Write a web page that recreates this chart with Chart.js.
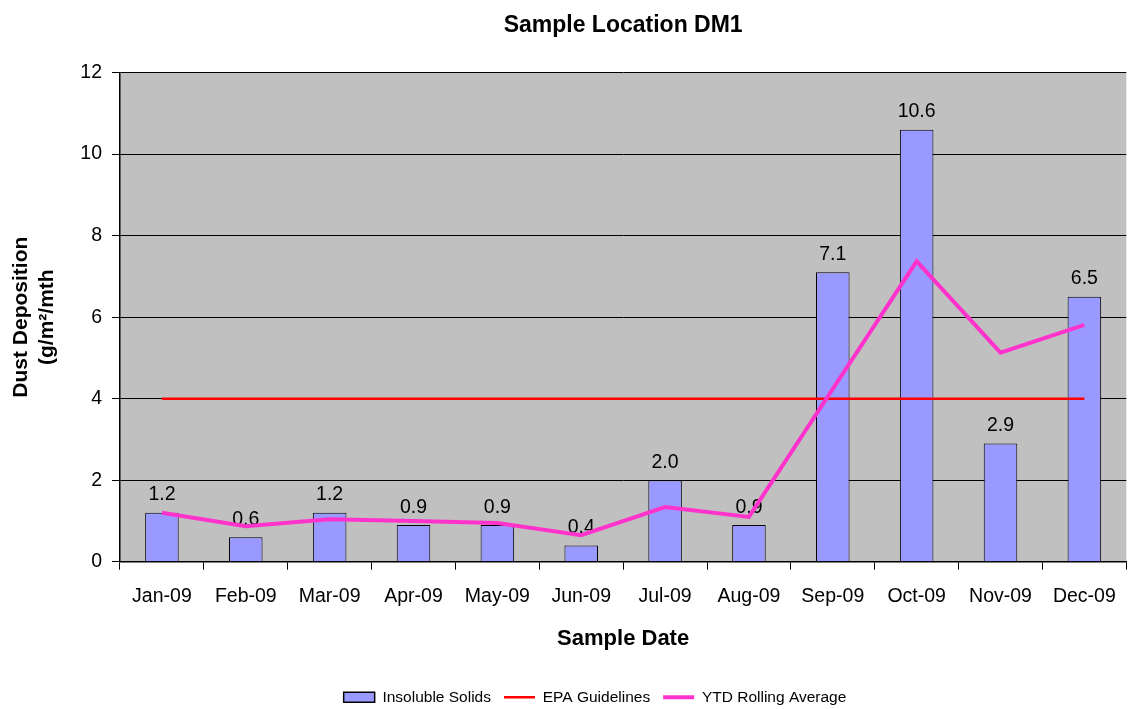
<!DOCTYPE html>
<html>
<head>
<meta charset="utf-8">
<script src="https://cdn.jsdelivr.net/npm/chart.js@4/dist/chart.umd.min.js"></script>
<style>
  html, body { margin: 0; padding: 0; background: #ffffff; }
  #wrap { width: 1131px; height: 709px; }
</style>
</head>
<body>
<div id="wrap"><canvas id="c" width="1131" height="709"></canvas></div>
<script>
const categories = ['Jan-09','Feb-09','Mar-09','Apr-09','May-09','Jun-09','Jul-09','Aug-09','Sep-09','Oct-09','Nov-09','Dec-09'];
const insolubleSolids = [1.2, 0.6, 1.2, 0.9, 0.9, 0.4, 2.0, 0.9, 7.1, 10.6, 2.9, 6.5];
const epaGuidelines = [4, 4, 4, 4, 4, 4, 4, 4, 4, 4, 4, 4];
const ytdRollingAverage = [1.2, 0.87, 1.04, 1.0, 0.95, 0.65, 1.34, 1.1, 4.24, 7.37, 5.13, 5.81];
const yTicks = [0, 2, 4, 6, 8, 10, 12];

const FONT = "'Liberation Sans', Arial, Helvetica, sans-serif";

const bgPlugin = {
  id: 'plotBg',
  beforeDraw(chart) {
    const a = chart.chartArea, ctx = chart.ctx;
    ctx.save();
    ctx.fillStyle = '#C0C0C0';
    ctx.fillRect(a.left, a.top, a.right - a.left, a.bottom - a.top);
    ctx.restore();
  }
};

const valueLabels = {
  id: 'valueLabels',
  afterDatasetDraw(chart, args) {
    if (args.index !== 0) return;
    const ctx = chart.ctx;
    const meta = args.meta;
    ctx.save();
    ctx.font = "19.5px " + FONT;
    ctx.fillStyle = '#000';
    ctx.textAlign = 'center';
    ctx.textBaseline = 'bottom';
    meta.data.forEach((bar, i) => {
      ctx.fillText(insolubleSolids[i].toFixed(1), bar.x, bar.y - 8);
    });
    ctx.restore();
  }
};

const legendShift = {
  id: 'legendShift',
  afterLayout(chart) {
    const lg = chart.legend;
    if (lg) {
      lg.left += 30;
      lg.right += 30;
      lg.top += 10;
      lg.bottom += 10;
    }
  }
};

new Chart(document.getElementById('c'), {
  type: 'bar',
  data: {
    labels: categories,
    datasets: [
      {
        label: 'Insoluble Solids',
        data: insolubleSolids,
        backgroundColor: '#9999FF',
        borderColor: '#000000',
        borderWidth: 1,
        barPercentage: 0.4,
        categoryPercentage: 1.0,
        order: 3
      },
      {
        type: 'line',
        label: 'EPA Guidelines',
        data: epaGuidelines,
        borderColor: '#FF0000',
        backgroundColor: '#FF0000',
        borderWidth: 2.5,
        pointRadius: 0,
        tension: 0,
        order: 2
      },
      {
        type: 'line',
        label: 'YTD Rolling Average',
        data: ytdRollingAverage,
        borderColor: '#FF33CC',
        backgroundColor: '#FF33CC',
        borderWidth: 4,
        pointRadius: 0,
        tension: 0,
        order: 1
      }
    ]
  },
  options: {
    responsive: false,
    animation: false,
    layout: { padding: { left: 0, right: 1, top: 0, bottom: 4 } },
    plugins: {
      tooltip: { enabled: false },
      title: {
        display: true,
        text: 'Sample Location DM1',
        color: '#000',
        fullSize: false,
        font: { family: FONT, size: 23, weight: 'bold' },
        padding: { top: 12, bottom: 33 }
      },
      legend: {
        position: 'bottom',
        labels: {
          color: '#000',
          font: { family: FONT, size: 15.5 },
          usePointStyle: true,
          pointStyleWidth: 31,
          boxHeight: 10,
          padding: 13,
          generateLabels(chart) {
            const items = Chart.defaults.plugins.legend.labels.generateLabels(chart);
            items.forEach(it => {
              if (it.datasetIndex === 0) {
                it.pointStyle = 'rect';
                it.lineWidth = 1.5;
                it.strokeStyle = '#000';
              } else {
                it.pointStyle = 'line';
              }
            });
            return items.sort((a, b) => a.datasetIndex - b.datasetIndex);
          }
        }
      }
    },
    scales: {
      x: {
        offset: true,
        grid: {
          display: true,
          offset: true,
          drawOnChartArea: false,
          drawTicks: true,
          tickLength: 8,
          color: '#000'
        },
        border: { display: true, color: '#000', width: 1.5 },
        ticks: {
          color: '#000',
          font: { family: FONT, size: 19.5 },
          padding: 15,
          maxRotation: 0,
          autoSkip: false
        },
        title: {
          display: true,
          text: 'Sample Date',
          color: '#000',
          font: { family: FONT, size: 22, weight: 'bold' },
          padding: { top: 3, bottom: 14 }
        }
      },
      y: {
        min: 0,
        max: 12,
        afterBuildTicks(scale) { scale.ticks = yTicks.map(v => ({ value: v })); },
        afterFit(scale) { scale.width = 120; },
        grid: {
          color: '#000',
          lineWidth: 1,
          tickLength: 8,
          drawTicks: true
        },
        border: { display: true, color: '#000', width: 1.5 },
        ticks: {
          color: '#000',
          font: { family: FONT, size: 19.5 },
          padding: 10
        },
        title: {
          display: true,
          text: ['Dust Deposition', '(g/m\u00B2/mth'],
          color: '#000',
          font: { family: FONT, size: 21, weight: 'bold' },
          padding: { top: 9, bottom: 0 }
        }
      }
    }
  },
  plugins: [bgPlugin, valueLabels, legendShift]
});
</script>
</body>
</html>
